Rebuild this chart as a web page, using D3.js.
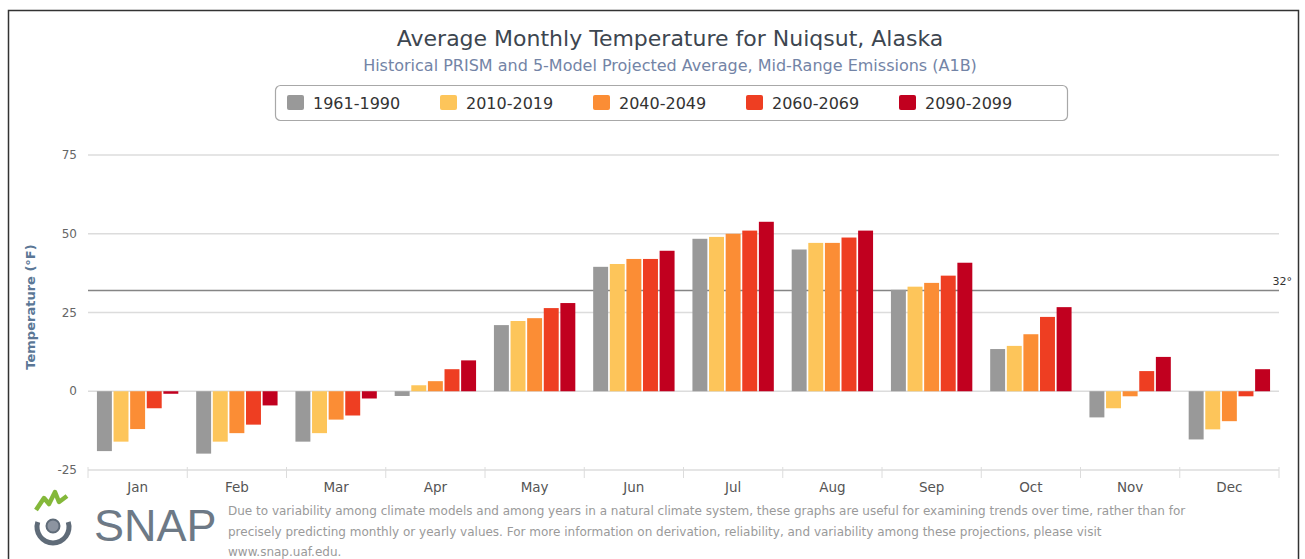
<!DOCTYPE html>
<html>
<head>
<meta charset="utf-8">
<script src="https://cdn.jsdelivr.net/npm/d3@7"></script>
<style>
  body { margin: 0; background: #fff; }
  svg { display: block; font-family: 'DejaVu Sans', sans-serif; }
</style>
</head>
<body>
<div id="chart"></div>
<script>
// Data
const months = ['Jan', 'Feb', 'Mar', 'Apr', 'May', 'Jun', 'Jul', 'Aug', 'Sep', 'Oct', 'Nov', 'Dec'];
const periods = ['1961-1990', '2010-2019', '2040-2049', '2060-2069', '2090-2099'];
const colors = ['#999999', '#fdc55a', '#fb8d35', '#ee3e22', '#c1001f'];
const temps1961 = [-19, -19.8, -16, -1.5, 21, 39.5, 48.4, 45, 32.2, 13.4, -8.3, -15.3];
const temps2010 = [-16, -16, -13.3, 1.9, 22.3, 40.4, 49, 47.1, 33.2, 14.4, -5.4, -12.1];
const temps2040 = [-12, -13.3, -9, 3.2, 23.2, 42, 50, 47.1, 34.4, 18.1, -1.6, -9.5];
const temps2060 = [-5.4, -10.6, -7.7, 7, 26.4, 42, 51, 48.8, 36.7, 23.6, 6.4, -1.6];
const temps2090 = [-0.8, -4.5, -2.3, 9.8, 28, 44.6, 53.8, 51, 40.8, 26.7, 10.9, 7];
const seriesValues = [temps1961, temps2010, temps2040, temps2060, temps2090];
const yTicks = [-25, 0, 25, 50, 75];
const freezing = 32;

const W = 1305, H = 559;
const plot = { left: 88, right: 1279, top: 155, bottom: 470 };

const svg = d3.select('#chart').append('svg')
    .attr('width', W)
    .attr('height', H);

// Outer frame
svg.append('rect')
    .attr('x', 8.5).attr('y', 10.5)
    .attr('width', 1290).attr('height', 600)
    .attr('fill', 'none')
    .attr('stroke', '#333')
    .attr('stroke-width', 1.5);

// Titles
svg.append('text')
    .attr('x', 670).attr('y', 46)
    .attr('text-anchor', 'middle')
    .style('font-size', '22px')
    .style('fill', '#3d4650')
    .text('Average Monthly Temperature for Nuiqsut, Alaska');

svg.append('text')
    .attr('x', 670).attr('y', 71)
    .attr('text-anchor', 'middle')
    .style('font-size', '16px')
    .style('fill', '#7384a6')
    .text('Historical PRISM and 5-Model Projected Average, Mid-Range Emissions (A1B)');

// Scales
const x0 = d3.scaleBand().domain(months).range([plot.left, plot.right]);
const x1 = d3.scaleBand().domain(periods)
    .range([x0.bandwidth() * 0.09, x0.bandwidth() * 0.91])
    .paddingInner(0.1);
const y = d3.scaleLinear().domain([-25, 75]).range([plot.bottom, plot.top]);

// Gridlines
svg.append('g').selectAll('line')
    .data(yTicks)
    .enter().append('line')
    .attr('x1', plot.left).attr('x2', plot.right)
    .attr('y1', d => y(d)).attr('y2', d => y(d))
    .attr('stroke', '#dcdcdc')
    .attr('stroke-width', 1.5);

// Y tick labels
svg.append('g').selectAll('text')
    .data(yTicks)
    .enter().append('text')
    .attr('x', 77).attr('y', d => y(d) + 4)
    .attr('text-anchor', 'end')
    .style('font-size', '12px')
    .style('fill', '#666')
    .text(d => d);

// Y axis title
svg.append('text')
    .attr('transform', `translate(35,${307}) rotate(-90)`)
    .attr('text-anchor', 'middle')
    .style('font-size', '13px')
    .style('font-weight', 'bold')
    .style('fill', '#5b7796')
    .text('Temperature (°F)');

// X axis ticks and labels
const xAxis = svg.append('g')
    .attr('transform', `translate(0,${plot.bottom})`)
    .call(d3.axisBottom(x0).tickSize(0).tickPadding(12));
xAxis.select('.domain').remove();
xAxis.selectAll('text')
    .style('font-size', '13.5px')
    .style('fill', '#555')
    .style('font-family', "'DejaVu Sans', sans-serif");

svg.append('g').selectAll('line')
    .data(months.concat(['end']))
    .enter().append('line')
    .attr('x1', (d, i) => plot.left + i * x0.step())
    .attr('x2', (d, i) => plot.left + i * x0.step())
    .attr('y1', plot.bottom - 3).attr('y2', plot.bottom + 8)
    .attr('stroke', '#dcdcdc')
    .attr('stroke-width', 1);

// Freezing line
svg.append('line')
    .attr('x1', plot.left).attr('x2', plot.right)
    .attr('y1', y(freezing)).attr('y2', y(freezing))
    .attr('stroke', '#858585')
    .attr('stroke-width', 1.5);
svg.append('text')
    .attr('x', 1292).attr('y', y(freezing) - 5)
    .attr('text-anchor', 'end')
    .style('font-size', '11px')
    .style('fill', '#333')
    .text(freezing + '°');

// Bars
const groups = svg.append('g').selectAll('g')
    .data(months)
    .enter().append('g')
    .attr('transform', d => `translate(${x0(d)},0)`);

groups.selectAll('rect')
    .data((m, mi) => periods.map((p, pi) => ({ period: p, value: seriesValues[pi][mi], color: colors[pi] })))
    .enter().append('rect')
    .attr('x', d => x1(d.period))
    .attr('width', x1.bandwidth())
    .attr('y', d => y(Math.max(0, d.value)))
    .attr('height', d => Math.abs(y(d.value) - y(0)))
    .attr('fill', d => d.color);

// Legend
const legend = svg.append('g');
legend.append('rect')
    .attr('x', 275.5).attr('y', 85.5)
    .attr('width', 792).attr('height', 35)
    .attr('rx', 5)
    .attr('fill', '#fff')
    .attr('stroke', '#a8a8a8')
    .attr('stroke-width', 1.2);

const items = legend.selectAll('g.item')
    .data(periods)
    .enter().append('g')
    .attr('class', 'item')
    .attr('transform', (d, i) => `translate(${287 + i * 153},0)`);
items.append('rect')
    .attr('x', 0).attr('y', 95)
    .attr('width', 17).attr('height', 15)
    .attr('rx', 2)
    .attr('fill', (d, i) => colors[i]);
items.append('text')
    .attr('x', 26).attr('y', 108.5)
    .style('font-size', '16px')
    .style('fill', '#333')
    .text(d => d);

// SNAP logo
const logo = svg.append('g');
logo.append('polyline')
    .attr('points', '36,510 44,498 49,504 55,492 59,502 67,496')
    .attr('fill', 'none')
    .attr('stroke', '#84b83a')
    .attr('stroke-width', 4.5)
    .attr('stroke-linejoin', 'round');
logo.append('path')
    .attr('d', d3.arc()({ innerRadius: 13.5, outerRadius: 18.5, startAngle: Math.PI * 0.4, endAngle: Math.PI * 1.6 }))
    .attr('transform', 'translate(53,527)')
    .attr('fill', '#5f6b78');
logo.append('circle')
    .attr('cx', 53).attr('cy', 526).attr('r', 6.5)
    .attr('fill', '#8c94a0')
    .attr('stroke', '#5f6b78')
    .attr('stroke-width', 2);
logo.append('text')
    .attr('x', 94).attr('y', 541)
    .style('font-family', "'Liberation Sans', Arial, sans-serif")
    .style('font-size', '45px')
    .style('fill', '#6d7986')
    .text('SNAP');

// Disclaimer
const disclaimer = [
    'Due to variability among climate models and among years in a natural climate system, these graphs are useful for examining trends over time, rather than for',
    'precisely predicting monthly or yearly values. For more information on derivation, reliability, and variability among these projections, please visit',
    'www.snap.uaf.edu.'
];
svg.append('g').selectAll('text')
    .data(disclaimer)
    .enter().append('text')
    .attr('x', 228)
    .attr('y', (d, i) => 515 + i * 20.5)
    .style('font-size', '12px')
    .style('fill', '#9a9a9a')
    .text(d => d);
</script>
</body>
</html>
